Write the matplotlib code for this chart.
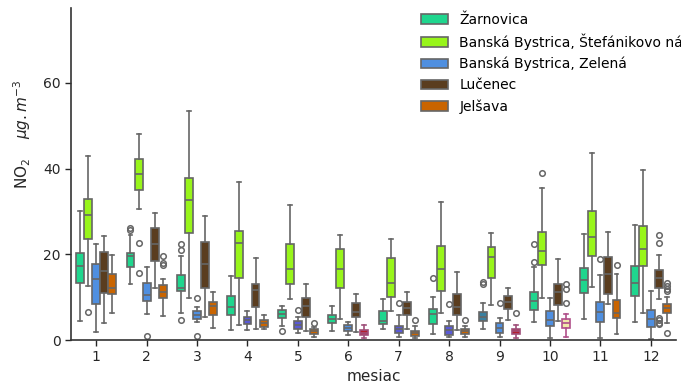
import matplotlib
matplotlib.use("Agg")
import matplotlib.pyplot as plt
from matplotlib.patches import Patch
import numpy as np

months = [str(m) for m in range(1, 13)]
legend_labels = ["Žarnovica", "Banská Bystrica, Štefánikovo nábrežie",
                 "Banská Bystrica, Zelená", "Lučenec", "Jelšava"]

# (whisker low, q1, median, q3, whisker high) per month
zarnovica = [[4.5, 13.2, 17.3, 20.2, 30.2], [13.1, 17.1, 19.6, 20.4, 24.4],
             [6.4, 11.4, 12.2, 15.2, 19.7], [2.3, 5.8, 7.6, 10.3, 14.9],
             [3.3, 5.1, 6.1, 7.0, 8.0], [2.0, 4.0, 5.0, 5.8, 7.9],
             [2.5, 3.8, 4.5, 6.7, 9.6], [1.5, 3.8, 6.1, 7.3, 10.0],
             [2.5, 4.4, 5.4, 6.5, 8.7], [4.3, 6.9, 9.1, 11.3, 17.0],
             [4.8, 10.9, 14.1, 16.9, 24.7], [4.2, 10.3, 13.3, 17.3, 26.9]]
zarnovica_fl = [[], [26.2, 25.7], [22.5, 21.0, 4.7], [], [2.2], [], [],
                [14.4], [13.5, 13.1], [22.4, 18.1], [], []]

stefanikovo = [[12.7, 23.5, 29.2, 32.9, 43.0], [30.6, 34.9, 38.7, 42.2, 48.1],
               [9.7, 25.0, 32.7, 37.9, 53.4], [3.4, 14.5, 22.6, 25.4, 36.9],
               [9.6, 13.1, 16.5, 22.4, 31.4], [5.0, 12.1, 16.5, 21.2, 24.4],
               [6.7, 10.0, 13.2, 19.1, 23.6], [6.2, 11.4, 16.6, 22.0, 32.3],
               [8.2, 14.4, 19.3, 21.7, 25.0], [9.7, 17.4, 20.8, 25.1, 35.5],
               [12.3, 19.7, 24.0, 30.1, 43.7], [6.4, 17.2, 21.2, 26.5, 39.6]]
stefanikovo_fl = [[6.5], [22.6, 15.6], [], [], [], [], [], [], [], [39.1], [], []]

zelena = [[1.9, 8.4, 14.2, 17.7, 22.4], [6.0, 9.2, 10.6, 13.3, 17.0],
          [4.1, 4.8, 5.9, 6.8, 7.6], [2.3, 3.7, 4.7, 5.4, 6.7],
          [1.6, 2.6, 3.6, 4.4, 5.4], [1.2, 2.0, 2.8, 3.5, 4.3],
          [0.8, 1.6, 2.5, 3.3, 5.8], [0.8, 1.2, 2.3, 3.2, 4.5],
          [0.7, 1.7, 2.7, 4.0, 5.2], [0.4, 3.3, 4.7, 6.8, 9.7],
          [0.5, 4.3, 6.6, 8.9, 15.1], [0.2, 3.1, 5.0, 7.0, 11.5]]
zelena_fl = [[], [1.0], [9.9, 0.9], [], [6.9], [], [8.6], [8.3], [8.6], [],
             [18.8], []]

lucenec = [[3.9, 11.0, 16.1, 20.5, 24.2], [12.2, 18.4, 22.3, 26.2, 29.7],
           [5.4, 12.1, 17.7, 22.8, 28.9], [2.6, 7.8, 11.7, 13.1, 19.1],
           [2.0, 5.3, 7.9, 9.9, 13.1], [1.9, 5.4, 6.5, 8.6, 10.7],
           [2.5, 5.9, 7.4, 8.9, 11.3], [2.3, 5.8, 7.6, 10.7, 15.9],
           [4.7, 7.3, 8.9, 10.3, 12.1], [4.4, 8.2, 11.2, 13.1, 19.0],
           [8.3, 10.7, 15.4, 19.3, 25.2], [9.5, 12.2, 14.4, 16.4, 19.8]]
lucenec_fl = [[], [], [], [], [], [], [], [], [], [], [],
              [24.6, 22.7, 5.2, 4.6, 4.0, 3.7]]

jelsava = [[6.2, 10.8, 12.2, 15.5, 19.8], [5.7, 9.8, 11.3, 12.8, 14.3],
           [2.8, 5.9, 7.9, 8.9, 11.1], [2.5, 3.1, 3.9, 4.7, 5.8],
           [0.8, 1.5, 2.0, 2.5, 3.1], [0.5, 1.1, 1.7, 2.3, 3.6],
           [0.5, 1.0, 1.6, 2.1, 3.3], [0.6, 1.3, 2.0, 2.5, 3.3],
           [0.4, 1.5, 2.0, 2.5, 3.5], [0.6, 2.7, 3.9, 4.9, 6.1],
           [1.3, 5.1, 6.4, 9.3, 15.5], [3.9, 6.4, 7.4, 8.5, 10.1]]
jelsava_fl = [[], [19.6, 17.9, 17.5], [], [], [4.0], [], [4.7], [4.7], [6.4],
              [13.1, 11.9, 8.7], [17.6], [13.2, 12.6, 12.0, 11.5, 1.7]]

series = [zarnovica, stefanikovo, zelena, lucenec, jelsava]
series_fl = [zarnovica_fl, stefanikovo_fl, zelena_fl, lucenec_fl, jelsava_fl]

colors = ["#1fd68e", "#98f51a", "#4f8fe0", "#5a3d1f", "#c96400"]
edge = "#666666"
# odd per-box colours seen in the reference: (station, month index) -> (face, edge)
overrides = {(2, 3): ("#5a5ad6", edge), (2, 4): ("#5a5ad6", edge),
             (2, 6): ("#5a5ad6", edge), (2, 7): ("#5a5ad6", edge),
             (0, 8): ("#3a80a0", edge),
             (4, 5): ("#b41e2c", "#a0507a"), (4, 8): ("#b41e2c", "#a0507a"),
             (4, 9): ("#f0eaa8", "#b0508a")}

fig = plt.figure(figsize=(6.81, 3.87), dpi=100)
ax = fig.add_axes([71 / 681, 1 - 340 / 387, 605 / 681, 332 / 387])

n = len(series)
w = 0.8 / n
for s, (data, fl) in enumerate(zip(series, series_fl)):
    for m in range(len(months)):
        lo, q1, med, q3, hi = data[m]
        st = dict(whislo=lo, q1=q1, med=med, q3=q3, whishi=hi, fliers=fl[m])
        face, ec = overrides.get((s, m), (colors[s], edge))
        pos = m + (s - (n - 1) / 2) * w
        ax.bxp([st], positions=[pos], widths=[w * 0.98], patch_artist=True,
               showfliers=True, manage_ticks=False,
               boxprops=dict(facecolor=face, edgecolor=ec, linewidth=1.2),
               medianprops=dict(color=ec, linewidth=1.2),
               whiskerprops=dict(color=ec, linewidth=1.2),
               capprops=dict(color=ec, linewidth=1.2),
               flierprops=dict(marker="o", markersize=4, markerfacecolor="none",
                               markeredgecolor=edge, markeredgewidth=1.1))

ax.set_xlim(-0.5, len(months) - 0.5)
ax.set_ylim(0, 77.5)
ax.set_xticks(range(len(months)))
ax.set_xticklabels(months)
ax.set_yticks([0, 20, 40, 60])
ax.tick_params(labelsize=10, colors="#262626", width=1.0, length=4)
for sp in ["top", "right"]:
    ax.spines[sp].set_visible(False)
for sp in ["left", "bottom"]:
    ax.spines[sp].set_color("#333333")
    ax.spines[sp].set_linewidth(1.2)

ax.set_xlabel("mesiac", fontsize=11, color="#262626", labelpad=3)
ax.set_ylabel("NO$_2$    $\\mu g.m^{-3}$", fontsize=11, color="#262626")
ax.yaxis.set_label_coords(-0.062, 0.62)

handles = [Patch(facecolor=c, edgecolor=edge, linewidth=1.2) for c in colors]
leg = fig.legend(handles, legend_labels, loc="upper left",
                 bbox_to_anchor=(408 / 681, 1.0), frameon=False,
                 fontsize=10, labelspacing=0.5)

fig.savefig("out.png", dpi=100)
